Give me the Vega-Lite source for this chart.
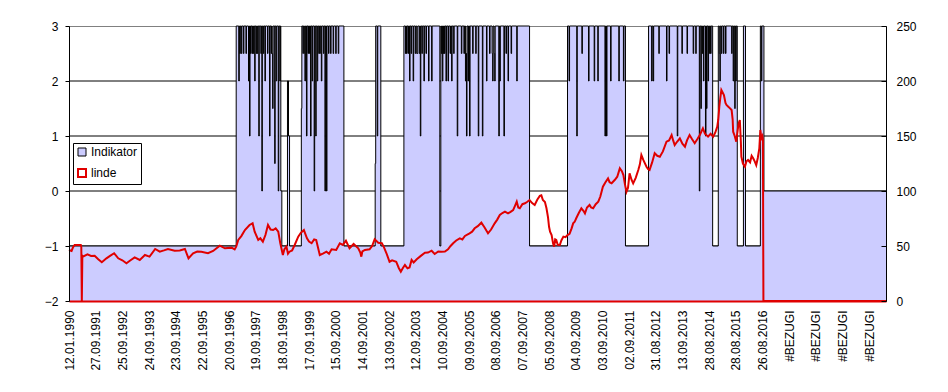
{
  "$schema": "https://vega.github.io/schema/vega-lite/v6.json",
  "width": 817,
  "height": 275,
  "autosize": {"type": "none"},
  "padding": {"left": 69, "top": 26, "right": 62, "bottom": 91},
  "background": "white",
  "config": {
    "view": {"stroke": "#808080", "strokeWidth": 1},
    "font": "Liberation Sans",
    "axis": {"labelFont": "Liberation Sans", "labelFontSize": 12, "labelColor": "black", "tickColor": "black", "domainColor": "black", "grid": false, "title": null, "labelOverlap": false},
    "axisX": {"labelOverlap": false, "labelBound": false},
    "legend": {"orient": "none", "legendX": 4, "legendY": 117, "title": null, "fillColor": "white", "strokeColor": "black", "padding": 3, "symbolSize": 64, "symbolType": "square", "symbolOpacity": 1, "labelFont": "Liberation Sans", "labelFontSize": 12, "labelColor": "black", "rowPadding": 7, "labelOffset": 3, "cornerRadius": 0}
  },
  "datasets": {
    "grid": [{"level": -1}, {"level": 0}, {"level": 1}, {"level": 2}],
    "series": [{"series": "Indikator"}, {"series": "linde"}],
    "indikator": [
      {"week":0,"value":-1},{"week":326,"value":3},{"week":331,"value":2},{"week":332,"value":3},{"week":333,"value":2.5},{"week":334,"value":3},{"week":336,"value":2.5},{"week":337,"value":3},{"week":340,"value":2.5},{"week":341,"value":3},{"week":345,"value":2.5},{"week":346,"value":3},{"week":350,"value":2},{"week":351,"value":3},{"week":352,"value":1},{"week":353,"value":3},{"week":354,"value":2.5},{"week":355,"value":3},{"week":357,"value":2.5},{"week":358,"value":3},{"week":359,"value":2.5},{"week":360,"value":3},{"week":362,"value":2},{"week":363,"value":3},{"week":365,"value":2.5},{"week":366,"value":3},{"week":367,"value":2.5},{"week":368,"value":3},{"week":370,"value":1},{"week":371,"value":3},{"week":374,"value":2.5},{"week":375,"value":3},{"week":376,"value":0},{"week":377,"value":3},{"week":379,"value":2.5},{"week":380,"value":3},{"week":382,"value":2},{"week":383,"value":3},{"week":387,"value":2.5},{"week":388,"value":3},{"week":391,"value":1},{"week":392,"value":3},{"week":394,"value":2.5},{"week":395,"value":3},{"week":396,"value":2.5},{"week":397,"value":1.5},{"week":398,"value":3},{"week":401,"value":0.5},{"week":402,"value":3},{"week":404,"value":2},{"week":405,"value":3},{"week":408,"value":0},{"week":409,"value":3},{"week":411,"value":2},{"week":412,"value":3},{"week":413,"value":0},{"week":415,"value":-1},{"week":426,"value":2},{"week":428,"value":1},{"week":430,"value":-1},
      {"week":453,"value":1.5},{"week":454,"value":3},{"week":456,"value":2.5},{"week":457,"value":3},{"week":459,"value":2.5},{"week":460,"value":2},{"week":461,"value":3},{"week":463,"value":1},{"week":464,"value":3},{"week":466,"value":2.5},{"week":467,"value":3},{"week":469,"value":2.5},{"week":470,"value":3},{"week":471,"value":1},{"week":472,"value":3},{"week":474,"value":2},{"week":475,"value":3},{"week":478,"value":0},{"week":479,"value":3},{"week":481,"value":1},{"week":482,"value":3},{"week":484,"value":2},{"week":485,"value":3},{"week":487,"value":2.5},{"week":488,"value":3},{"week":489,"value":2.5},{"week":490,"value":3},{"week":492,"value":2},{"week":493,"value":3},{"week":496,"value":2.5},{"week":497,"value":3},{"week":499,"value":0},{"week":500,"value":3},{"week":502,"value":0},{"week":503,"value":3},{"week":506,"value":2.5},{"week":507,"value":3},{"week":510,"value":2.5},{"week":511,"value":3},{"week":515,"value":2.5},{"week":516,"value":3},{"week":520,"value":2.5},{"week":521,"value":3},{"week":525,"value":2.5},{"week":526,"value":3},{"week":536,"value":-1},
      {"week":597,"value":0.5},{"week":598,"value":3},{"week":601,"value":1},{"week":602,"value":3},{"week":608,"value":-1},
      {"week":653,"value":3},{"week":656,"value":2.5},{"week":657,"value":3},{"week":658,"value":2.5},{"week":659,"value":3},{"week":661,"value":2.5},{"week":662,"value":3},{"week":664,"value":2},{"week":665,"value":3},{"week":667,"value":2.5},{"week":668,"value":3},{"week":671,"value":2},{"week":672,"value":3},{"week":675,"value":2.5},{"week":676,"value":3},{"week":678,"value":2.5},{"week":680,"value":3},{"week":683,"value":2.5},{"week":684,"value":3},{"week":685,"value":1},{"week":686,"value":3},{"week":688,"value":2.5},{"week":689,"value":3},{"week":692,"value":2},{"week":693,"value":3},{"week":696,"value":2.5},{"week":697,"value":3},{"week":701,"value":2},{"week":702,"value":3},{"week":707,"value":2},{"week":708,"value":3},{"week":723,"value":-1},{"week":725,"value":3},{"week":726,"value":2.5},{"week":727,"value":3},{"week":728,"value":2},{"week":729,"value":3},{"week":730,"value":2.5},{"week":731,"value":3},{"week":732,"value":2.5},{"week":733,"value":3},{"week":735,"value":2},{"week":736,"value":3},{"week":739,"value":2},{"week":740,"value":3},{"week":743,"value":2.5},{"week":744,"value":3},{"week":746,"value":2},{"week":747,"value":3},{"week":750,"value":2.5},{"week":751,"value":3},{"week":757,"value":1},{"week":758,"value":3},{"week":765,"value":2.5},{"week":766,"value":3},{"week":770,"value":2.5},{"week":771,"value":3},{"week":773,"value":2},{"week":774,"value":2.5},{"week":775,"value":1},{"week":776,"value":3},{"week":778,"value":2},{"week":779,"value":3},{"week":781,"value":1},{"week":782,"value":3},{"week":787,"value":2.5},{"week":788,"value":3},{"week":793,"value":2.5},{"week":794,"value":3},{"week":798,"value":1},{"week":799,"value":3},{"week":806,"value":1},{"week":807,"value":3},{"week":814,"value":2},{"week":815,"value":3},{"week":820,"value":2.5},{"week":821,"value":3},{"week":825,"value":2.5},{"week":826,"value":2},{"week":827,"value":3},{"week":829,"value":2.5},{"week":830,"value":2},{"week":831,"value":3},{"week":838,"value":1},{"week":839,"value":3},{"week":840,"value":2},{"week":841,"value":3},{"week":848,"value":1},{"week":849,"value":3},{"week":852,"value":2.5},{"week":853,"value":3},{"week":856,"value":2},{"week":857,"value":3},{"week":862,"value":2.5},{"week":863,"value":3},{"week":873,"value":2},{"week":874,"value":3},{"week":898,"value":-1},
      {"week":972,"value":3},{"week":975,"value":2},{"week":976,"value":3},{"week":990,"value":1},{"week":991,"value":3},{"week":1000,"value":2.5},{"week":1001,"value":3},{"week":1013,"value":2},{"week":1014,"value":3},{"week":1024,"value":2},{"week":1025,"value":3},{"week":1031,"value":2},{"week":1032,"value":3},{"week":1045,"value":1},{"week":1046,"value":3},{"week":1048,"value":1},{"week":1049,"value":3},{"week":1056,"value":2},{"week":1057,"value":3},{"week":1072,"value":2},{"week":1073,"value":3},{"week":1081,"value":2},{"week":1082,"value":3},{"week":1085,"value":-1},
      {"week":1130,"value":3},{"week":1136,"value":2},{"week":1137,"value":3},{"week":1139,"value":2},{"week":1140,"value":3},{"week":1150,"value":2.5},{"week":1151,"value":3},{"week":1165,"value":2},{"week":1166,"value":3},{"week":1170,"value":2.5},{"week":1171,"value":3},{"week":1186,"value":1},{"week":1187,"value":3},{"week":1195,"value":2.5},{"week":1196,"value":3},{"week":1205,"value":2.5},{"week":1206,"value":3},{"week":1217,"value":2.5},{"week":1218,"value":3},{"week":1222,"value":2.5},{"week":1223,"value":3},{"week":1229,"value":0},{"week":1230,"value":3},{"week":1232,"value":1.5},{"week":1233,"value":3},{"week":1235,"value":2.5},{"week":1236,"value":3},{"week":1237,"value":2},{"week":1238,"value":3},{"week":1241,"value":1},{"week":1242,"value":3},{"week":1243,"value":1.5},{"week":1244,"value":3},{"week":1246,"value":2},{"week":1247,"value":3},{"week":1249,"value":2.5},{"week":1250,"value":3},{"week":1251,"value":2.5},{"week":1252,"value":3},{"week":1255,"value":-1},
      {"week":1266,"value":3},{"week":1268,"value":2.5},{"week":1269,"value":2},{"week":1270,"value":3},{"week":1272,"value":2.5},{"week":1273,"value":3},{"week":1276,"value":2.5},{"week":1277,"value":3},{"week":1280,"value":2.5},{"week":1281,"value":3},{"week":1292,"value":2.5},{"week":1293,"value":3},{"week":1295,"value":2},{"week":1296,"value":3},{"week":1298,"value":1.5},{"week":1299,"value":3},{"week":1300,"value":2},{"week":1301,"value":3},{"week":1303,"value":-1},{"week":1315,"value":3},{"week":1319,"value":-1},{"week":1348,"value":3},{"week":1350,"value":2},{"week":1351,"value":3},{"week":1355,"value":0},{"week":1593,"value":0}
    ],
    "linde": [
      {"week":0,"value":46.4},{"week":5,"value":45.5},{"week":8,"value":49},{"week":11,"value":50.9},{"week":23,"value":50.9},{"week":24,"value":49},{"week":25,"value":0},{"week":26,"value":41},{"week":27,"value":40.3},{"week":36,"value":42.5},{"week":43,"value":41},{"week":50,"value":41.2},{"week":57,"value":38},{"week":64,"value":35.2},{"week":73,"value":38.8},{"week":80,"value":41},{"week":88,"value":43.4},{"week":96,"value":38.8},{"week":104,"value":37},{"week":112,"value":34.3},{"week":120,"value":37},{"week":128,"value":39.7},{"week":138,"value":37.3},{"week":148,"value":41.8},{"week":157,"value":40.3},{"week":168,"value":47.3},{"week":177,"value":44.8},{"week":185,"value":46},{"week":193,"value":47.3},{"week":206,"value":45.7},{"week":216,"value":46},{"week":226,"value":47.3},{"week":233,"value":38.8},{"week":242,"value":43.4},{"week":250,"value":45},{"week":258,"value":44.8},{"week":271,"value":43.4},{"week":281,"value":45.5},{"week":294,"value":50.3},{"week":304,"value":47.9},{"week":317,"value":48.5},{"week":323,"value":47},{"week":326,"value":49.4},{"week":330,"value":55.5},{"week":336,"value":59},{"week":343,"value":64.5},{"week":352,"value":69.1},{"week":358,"value":70.6},{"week":362,"value":63},{"week":369,"value":55.5},{"week":373,"value":57},{"week":378,"value":53.9},{"week":383,"value":60},{"week":388,"value":69.1},{"week":393,"value":65},{"week":398,"value":64.5},{"week":403,"value":66},{"week":408,"value":63},{"week":412,"value":52.5},{"week":417,"value":41.8},{"week":420,"value":47},{"week":424,"value":49.4},{"week":427,"value":43},{"week":430,"value":44.8},{"week":435,"value":46},{"week":440,"value":50.9},{"week":447,"value":58.5},{"week":452,"value":62},{"week":458,"value":64.5},{"week":464,"value":57},{"week":468,"value":54},{"week":473,"value":52.5},{"week":478,"value":56},{"week":482,"value":55.5},{"week":489,"value":41.8},{"week":495,"value":43},{"week":502,"value":44.8},{"week":507,"value":43},{"week":512,"value":47},{"week":521,"value":46.4},{"week":528,"value":52.5},{"week":534,"value":51},{"week":540,"value":54.8},{"week":547,"value":47.9},{"week":555,"value":51.8},{"week":564,"value":47.9},{"week":568,"value":44},{"week":570,"value":40.3},{"week":572,"value":45},{"week":577,"value":46.4},{"week":586,"value":47},{"week":591,"value":50},{"week":596,"value":56.1},{"week":603,"value":53},{"week":610,"value":52.5},{"week":614,"value":49},{"week":619,"value":43.4},{"week":625,"value":35.7},{"week":630,"value":37},{"week":638,"value":35.7},{"week":643,"value":30},{"week":647,"value":26.6},{"week":651,"value":30},{"week":655,"value":32.7},{"week":660,"value":29.7},{"week":664,"value":30.5},{"week":668,"value":37.3},{"week":672,"value":35},{"week":678,"value":37.9},{"week":686,"value":41},{"week":694,"value":43.9},{"week":700,"value":44},{"week":707,"value":45.7},{"week":713,"value":42.7},{"week":720,"value":45},{"week":726,"value":44.8},{"week":733,"value":45},{"week":739,"value":47},{"week":744,"value":50},{"week":749,"value":52.5},{"week":755,"value":55},{"week":762,"value":57},{"week":767,"value":56},{"week":772,"value":59.1},{"week":781,"value":61.5},{"week":786,"value":63},{"week":791,"value":66.1},{"week":797,"value":68},{"week":804,"value":71.2},{"week":810,"value":67},{"week":817,"value":61.5},{"week":823,"value":65},{"week":830,"value":70.6},{"week":835,"value":74},{"week":840,"value":78.2},{"week":845,"value":80},{"week":850,"value":81.2},{"week":856,"value":79.7},{"week":861,"value":81},{"week":866,"value":82.7},{"week":870,"value":87},{"week":873,"value":90.3},{"week":876,"value":85},{"week":879,"value":84.3},{"week":884,"value":88},{"week":889,"value":88.8},{"week":893,"value":90},{"week":898,"value":91.8},{"week":903,"value":89},{"week":908,"value":87.3},{"week":913,"value":92},{"week":918,"value":95.5},{"week":921,"value":96},{"week":924,"value":91.8},{"week":928,"value":90},{"week":931,"value":84.3},{"week":934,"value":76},{"week":936,"value":67.5},{"week":938,"value":63},{"week":941,"value":60},{"week":944,"value":52},{"week":946,"value":49.4},{"week":948,"value":56},{"week":950,"value":55.5},{"week":953,"value":51},{"week":957,"value":50.9},{"week":960,"value":55},{"week":964,"value":58.5},{"week":968,"value":58},{"week":972,"value":60},{"week":976,"value":61},{"week":980,"value":66},{"week":983,"value":70.6},{"week":986,"value":72},{"week":989,"value":75.2},{"week":994,"value":80},{"week":999,"value":84.3},{"week":1003,"value":82},{"week":1006,"value":79.7},{"week":1010,"value":85},{"week":1015,"value":87.3},{"week":1018,"value":85},{"week":1022,"value":84.3},{"week":1027,"value":88},{"week":1032,"value":90.3},{"week":1036,"value":95},{"week":1041,"value":103.9},{"week":1046,"value":108},{"week":1051,"value":111.5},{"week":1054,"value":108},{"week":1058,"value":107},{"week":1064,"value":110},{"week":1069,"value":113},{"week":1074,"value":120.6},{"week":1078,"value":118},{"week":1081,"value":114.5},{"week":1084,"value":106},{"week":1087,"value":99.4},{"week":1090,"value":103},{"week":1093,"value":116.1},{"week":1097,"value":110},{"week":1100,"value":107},{"week":1105,"value":112},{"week":1110,"value":119.1},{"week":1113,"value":124},{"week":1116,"value":132.7},{"week":1120,"value":128},{"week":1126,"value":122.1},{"week":1129,"value":120},{"week":1132,"value":119.1},{"week":1137,"value":126},{"week":1142,"value":134.3},{"week":1147,"value":132},{"week":1152,"value":131.2},{"week":1158,"value":136},{"week":1165,"value":144.8},{"week":1170,"value":146},{"week":1175,"value":150.9},{"week":1178,"value":146},{"week":1181,"value":141.8},{"week":1186,"value":145},{"week":1191,"value":147.9},{"week":1196,"value":143},{"week":1201,"value":140.3},{"week":1205,"value":146},{"week":1210,"value":150.9},{"week":1215,"value":147},{"week":1220,"value":143.4},{"week":1225,"value":147},{"week":1230,"value":150.9},{"week":1233,"value":154},{"week":1236,"value":157},{"week":1240,"value":152},{"week":1246,"value":149.4},{"week":1251,"value":152},{"week":1256,"value":149.4},{"week":1260,"value":153},{"week":1264,"value":158.5},{"week":1266,"value":165},{"week":1268,"value":176.6},{"week":1270,"value":185},{"week":1272,"value":191.8},{"week":1274,"value":190},{"week":1277,"value":187.3},{"week":1280,"value":180},{"week":1282,"value":178.2},{"week":1287,"value":176},{"week":1292,"value":173.6},{"week":1294,"value":165},{"week":1295,"value":153.9},{"week":1298,"value":150},{"week":1301,"value":144.8},{"week":1304,"value":156},{"week":1306,"value":162},{"week":1308,"value":164.5},{"week":1310,"value":145},{"week":1311,"value":131.2},{"week":1314,"value":125},{"week":1318,"value":122.1},{"week":1321,"value":127},{"week":1324,"value":128.2},{"week":1328,"value":126},{"week":1331,"value":132},{"week":1334,"value":129.7},{"week":1337,"value":127},{"week":1340,"value":123.6},{"week":1343,"value":130},{"week":1346,"value":138.8},{"week":1348,"value":155.5},{"week":1350,"value":148},{"week":1352,"value":150},{"week":1353,"value":146.4},{"week":1354,"value":0},{"week":1593,"value":0}
    ]
  },
  "layer": [
    {
      "layer": [
        {
          "data": {"name": "grid"},
          "mark": {"type": "rule", "color": "black", "strokeWidth": 1},
          "encoding": {
            "y": {"field": "level", "type": "quantitative", "scale": {"domain": [-2, 3], "nice": false, "zero": false},
              "axis": {"values": [-2, -1, 0, 1, 2, 3], "tickSize": 4, "labelPadding": 7, "zindex": 1, "title": null}}
          }
        },
        {
          "data": {"name": "indikator"},
          "mark": {"type": "area", "interpolate": "step-after", "opacity": 1, "color": "#CCCCFF"},
          "encoding": {
            "x": {"field": "week", "type": "quantitative", "scale": {"domain": [0, 1593], "nice": false, "zero": false},
              "axis": {"values": [0,52,104,156,208,260,312,364,416,468,520,572,624,676,728,780,832,884,936,988,1040,1092,1144,1196,1248,1300,1352,1404,1456,1508,1560],
                "labelExpr": "['12.01.1990','27.09.1991','25.09.1992','24.09.1993','23.09.1994','22.09.1995','20.09.1996','19.09.1997','18.09.1998','17.09.1999','15.09.2000','14.09.2001','13.09.2002','12.09.2003','10.09.2004','09.09.2005','08.09.2006','07.09.2007','05.09.2008','04.09.2009','03.09.2010','02.09.2011','31.08.2012','13.09.2013','28.08.2014','28.08.2015','26.08.2016','#BEZUGI','#BEZUGI','#BEZUGI','#BEZUGI'][round(datum.value/52)]",
                "labelAngle": -90, "labelPadding": 9, "ticks": false, "domainColor": "#E00000", "domainWidth": 2, "labelOverlap": false, "labelBound": false, "zindex": 1, "title": null}},
            "y": {"field": "value", "type": "quantitative", "scale": {"domain": [-2, 3], "nice": false, "zero": false}},
            "y2": {"datum": -2}
          }
        },
        {
          "data": {"name": "indikator"},
          "mark": {"type": "line", "interpolate": "step-after", "color": "black", "strokeWidth": 1},
          "encoding": {
            "x": {"field": "week", "type": "quantitative", "scale": {"domain": [0, 1593], "nice": false, "zero": false},
              "axis": {"values": [0,52,104,156,208,260,312,364,416,468,520,572,624,676,728,780,832,884,936,988,1040,1092,1144,1196,1248,1300,1352,1404,1456,1508,1560],
                "labelExpr": "['12.01.1990','27.09.1991','25.09.1992','24.09.1993','23.09.1994','22.09.1995','20.09.1996','19.09.1997','18.09.1998','17.09.1999','15.09.2000','14.09.2001','13.09.2002','12.09.2003','10.09.2004','09.09.2005','08.09.2006','07.09.2007','05.09.2008','04.09.2009','03.09.2010','02.09.2011','31.08.2012','13.09.2013','28.08.2014','28.08.2015','26.08.2016','#BEZUGI','#BEZUGI','#BEZUGI','#BEZUGI'][round(datum.value/52)]",
                "labelAngle": -90, "labelPadding": 9, "ticks": false, "domainColor": "#E00000", "domainWidth": 2, "labelOverlap": false, "labelBound": false, "zindex": 1, "title": null}},
            "y": {"field": "value", "type": "quantitative", "scale": {"domain": [-2, 3], "nice": false, "zero": false}}
          }
        }
      ]
    },
    {
      "data": {"name": "linde"},
      "mark": {"type": "line", "strokeWidth": 2, "color": "#E00000"},
      "encoding": {
        "x": {"field": "week", "type": "quantitative", "scale": {"domain": [0, 1593], "nice": false, "zero": false},
          "axis": {"values": [0,52,104,156,208,260,312,364,416,468,520,572,624,676,728,780,832,884,936,988,1040,1092,1144,1196,1248,1300,1352,1404,1456,1508,1560],
            "labelExpr": "['12.01.1990','27.09.1991','25.09.1992','24.09.1993','23.09.1994','22.09.1995','20.09.1996','19.09.1997','18.09.1998','17.09.1999','15.09.2000','14.09.2001','13.09.2002','12.09.2003','10.09.2004','09.09.2005','08.09.2006','07.09.2007','05.09.2008','04.09.2009','03.09.2010','02.09.2011','31.08.2012','13.09.2013','28.08.2014','28.08.2015','26.08.2016','#BEZUGI','#BEZUGI','#BEZUGI','#BEZUGI'][round(datum.value/52)]",
            "labelAngle": -90, "labelPadding": 9, "ticks": false, "domainColor": "#E00000", "domainWidth": 2, "labelOverlap": false, "labelBound": false, "zindex": 1, "title": null}},
        "y": {"field": "value", "type": "quantitative", "scale": {"domain": [0, 250], "nice": false, "zero": false},
          "axis": {"orient": "right", "values": [0, 50, 100, 150, 200, 250], "tickSize": -5, "labelPadding": 15, "zindex": 1, "title": null}}
      }
    },
    {
      "data": {"name": "series"},
      "mark": {"type": "point", "opacity": 0, "filled": true, "shape": "square"},
      "encoding": {
        "fill": {"field": "series", "type": "nominal", "scale": {"domain": ["Indikator", "linde"], "range": ["#CCCCFF", "white"]}, "legend": {"title": null}},
        "stroke": {"field": "series", "type": "nominal", "scale": {"domain": ["Indikator", "linde"], "range": ["black", "#E00000"]}, "legend": {"title": null}},
        "strokeWidth": {"field": "series", "type": "nominal", "scale": {"domain": ["Indikator", "linde"], "range": [1, 2]}, "legend": {"title": null}}
      }
    }
  ],
  "resolve": {"scale": {"y": "independent"}}
}
